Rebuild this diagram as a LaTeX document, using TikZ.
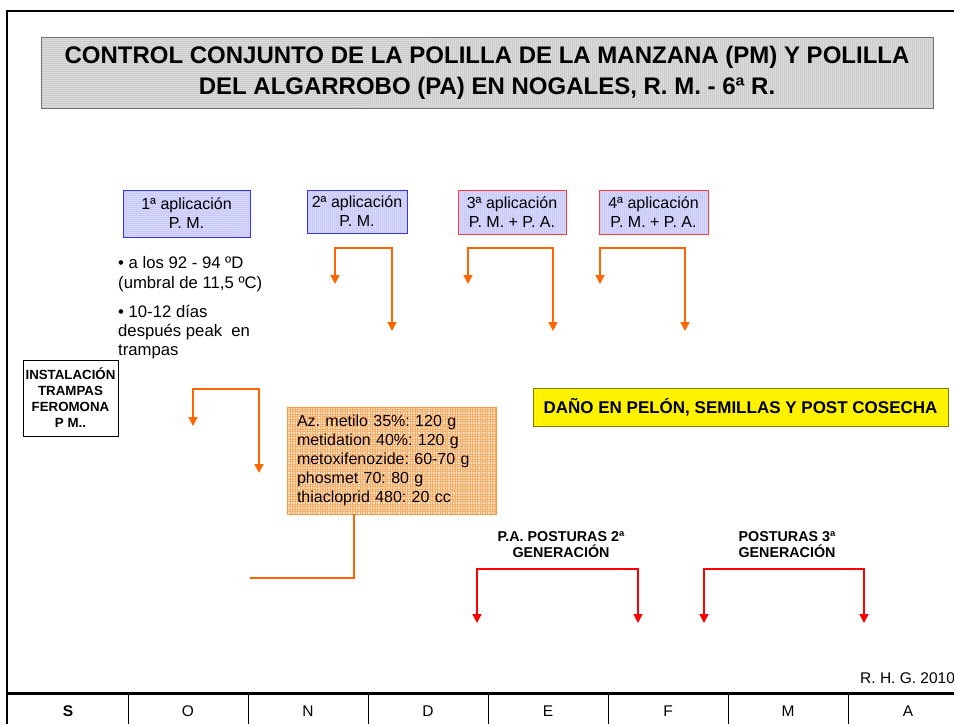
\documentclass[tikz,border=0pt]{standalone}
\usepackage{fontspec}
\setmainfont{Liberation Sans}
\usetikzlibrary{arrows.meta,patterns.meta}
\definecolor{naranjo}{RGB}{255,102,0}
\definecolor{rojo}{RGB}{255,0,0}
\definecolor{azul}{RGB}{51,51,255}
\definecolor{rojocaja}{RGB}{255,60,60}
\definecolor{lila}{RGB}{225,225,255}
\definecolor{puntolila}{RGB}{110,110,230}
\definecolor{gris}{RGB}{228,228,228}
\definecolor{crema}{RGB}{255,228,195}
\definecolor{rejilla}{RGB}{255,170,100}
\definecolor{marco}{RGB}{255,150,60}
\definecolor{oliva}{RGB}{128,128,0}
\tikzset{
	caja/.style={minimum width=#1, inner sep=0pt, align=center},
	aplic/.style={preaction={fill=lila}, pattern={Dots[distance=2pt,radius=0.5pt]}, pattern color=puntolila, line width=1pt, font=\fontsize{16}{19}\selectfont},
	flechan/.style={draw=naranjo, line width=1.5pt, {Triangle[width=9pt,length=9pt]}-{Triangle[width=9pt,length=9pt]}},
	flechar/.style={draw=rojo, line width=1.3pt, {Triangle[width=9pt,length=9pt]}-{Triangle[width=9pt,length=9pt]}},
	mes/.style={font=\fontsize{15.5}{18}\selectfont}
}
\begin{document}
\frenchspacing
\begin{tikzpicture}[x=1pt,y=-1pt]
			\useasboundingbox (0,0) rectangle (954,724);
			\draw [line width=2pt] (954,11) -- (7,11) -- (7,724);
			\draw [line width=3pt] (7,693) -- (954,693);
			\node [caja=892pt, minimum height=71pt, draw=black!55, line width=1pt, preaction={fill=gris}, pattern={Dots[distance=2pt,radius=0.5pt]}, pattern color=black!55, font=\fontsize{24}{31}\selectfont\bfseries] (titulo) at (487,72.5) {CONTROL CONJUNTO DE LA POLILLA DE LA MANZANA (PM) Y POLILLA\\DEL ALGARROBO (PA) EN NOGALES, R. M. - 6ª R.};
			\node [caja=127pt, minimum height=47pt, aplic, draw=azul] (ap1) at (186.5,213.5) {1ª aplicación\\P. M.};
			\node [caja=100pt, minimum height=43pt, aplic, draw=azul] (ap2) at (357,211.5) {2ª aplicación\\P. M.};
			\node [caja=108pt, minimum height=44pt, aplic, draw=rojocaja] (ap3) at (512,212) {3ª aplicación\\P. M. + P. A.};
			\node [caja=109pt, minimum height=44pt, aplic, draw=rojocaja] (ap4) at (653.5,212) {4ª aplicación\\P. M. + P. A.};
			\node [anchor=north west, inner sep=0pt, align=left, font=\fontsize{16.7}{20}\selectfont] (grados) at (118,256) {• a los 92 - 94 ºD\\(umbral de 11,5 ºC)};
			\node [anchor=north west, inner sep=0pt, align=left, font=\fontsize{16.7}{19}\selectfont] (peak) at (118,304.5) {• 10-12 días\\después peak \ en\\trampas};
			\node [caja=95pt, minimum height=76pt, draw, line width=1pt, font=\fontsize{13.3}{16}\selectfont\bfseries] (trampas) at (70.5,398) {INSTALACIÓN\\TRAMPAS\\FEROMONA\\P M..};
			\node [minimum width=209pt, minimum height=107pt, inner xsep=10pt, inner ysep=0pt, text width=189pt, align=left, draw=marco, line width=1pt, preaction={fill=crema}, pattern={Hatch[distance=2.5pt,angle=0,line width=0.5pt]}, pattern color=rejilla, font=\fontsize{16}{19}\selectfont] (productos) at (391.5,460.5) {Az. metilo 35\%: 120 g\\metidation 40\%: 120 g\\metoxifenozide: 60-70 g\\phosmet 70: 80 g\\thiacloprid 480: 20 cc};
			\node [caja=415pt, minimum height=38pt, draw=oliva, line width=1pt, fill=yellow, font=\fontsize{17}{20}\selectfont\bfseries] (dano) at (740.5,407) {DAÑO EN PELÓN, SEMILLAS Y POST COSECHA};
			\node [caja=0pt, font=\fontsize{14.3}{16}\selectfont\bfseries] (post2) at (561,545) {P.A. POSTURAS 2ª\\GENERACIÓN};
			\node [caja=0pt, font=\fontsize{14.3}{16}\selectfont\bfseries] (post3) at (787,545) {POSTURAS 3ª\\GENERACIÓN};
			\node [anchor=base west, inner sep=0pt, font=\fontsize{15.5}{16}\selectfont] (autor) at (860,683) {R. H. G. 2010};
			\coordinate (a2i) at (335,284);
			\coordinate (a2d) at (392,331);
			\coordinate (a3i) at (468,284);
			\coordinate (a3d) at (553,331);
			\coordinate (a4i) at (600,284);
			\coordinate (a4d) at (685,331);
			\coordinate (a1i) at (193,426);
			\coordinate (a1d) at (259,473);
			\coordinate (r2i) at (477,623);
			\coordinate (r2d) at (638,623);
			\coordinate (r3i) at (704,623);
			\coordinate (r3d) at (864,623);
			\coordinate (codo) at (354,578);
			\draw [flechan] (a2i) -- ++(0,-36) -| (a2d);
			\draw [flechan] (a3i) -- ++(0,-36) -| (a3d);
			\draw [flechan] (a4i) -- ++(0,-36) -| (a4d);
			\draw [flechan] (a1i) -- ++(0,-37) -| (a1d);
			\draw [naranjo, line width=1.5pt] (codo |- productos.south) -- (codo) -- ++(-104,0);
			\draw [flechar] (r2i) -- ++(0,-54) -| (r2d);
			\draw [flechar] (r3i) -- ++(0,-54) -| (r3d);
				\draw [line width=1pt] (128,694) -- (128,724);
				\draw [line width=1pt] (248,694) -- (248,724);
				\draw [line width=1pt] (368,694) -- (368,724);
				\draw [line width=1pt] (488,694) -- (488,724);
				\draw [line width=1pt] (608,694) -- (608,724);
				\draw [line width=1pt] (728,694) -- (728,724);
				\draw [line width=1pt] (848,694) -- (848,724);
				\node [mes, font=\fontsize{15.5}{18}\selectfont\bfseries] (ms) at (68,711) {S};
				\node [mes] (mo) at (188,711) {O};
				\node [mes] (mn) at (308,711) {N};
				\node [mes] (md) at (428,711) {D};
				\node [mes] (me) at (548,711) {E};
				\node [mes] (mf) at (668,711) {F};
				\node [mes] (mm) at (788,711) {M};
				\node [mes] (ma) at (908,711) {A};
		\end{tikzpicture}
\end{document}
